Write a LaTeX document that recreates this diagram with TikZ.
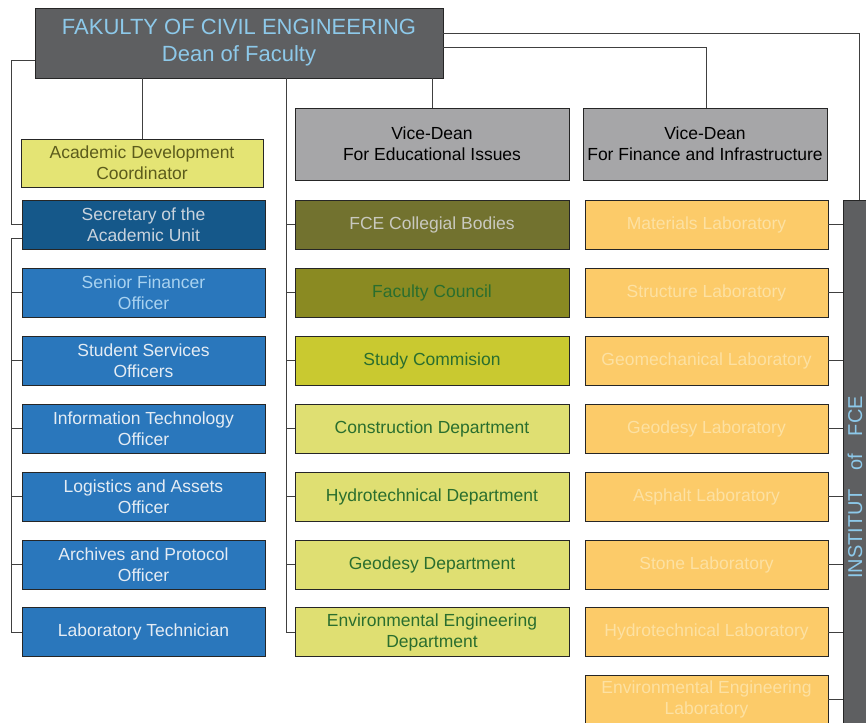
\documentclass[tikz,border=0pt]{standalone}
\usepackage{fontspec}
\setmainfont{Liberation Sans}
\definecolor{deanfill}{HTML}{5E5F61}
\definecolor{deantext}{HTML}{8DC9EA}
\definecolor{vdfill}{HTML}{A6A6A8}
\definecolor{adcfill}{HTML}{E4E474}
\definecolor{adctext}{HTML}{5C5C1C}
\definecolor{secfill}{HTML}{15588A}
\definecolor{sectext}{HTML}{C9D3DD}
\definecolor{bluefill}{HTML}{2A77BC}
\definecolor{bluetextA}{HTML}{A8D2F0}
\definecolor{bluetext}{HTML}{E4ECF4}
\definecolor{fcefill}{HTML}{72722F}
\definecolor{fcetext}{HTML}{C9C9BF}
\definecolor{fcfill}{HTML}{8A8A22}
\definecolor{greentext}{HTML}{2A6E2E}
\definecolor{scfill}{HTML}{C9C930}
\definecolor{depfill}{HTML}{DFDF72}
\definecolor{labfill}{HTML}{FCCB69}
\definecolor{labtext}{HTML}{FDE1A2}
\definecolor{boxline}{HTML}{262626}
\definecolor{conn}{HTML}{404040}
\tikzset{
  box/.style={draw=boxline, line width=0.9pt, inner sep=0pt, align=center,
    font=\fontsize{17.5}{21}\selectfont},
  leftbox/.style={box, minimum width=243pt, minimum height=49pt, fill=bluefill, text=bluetext},
  midbox/.style={box, minimum width=274pt, minimum height=49pt, fill=depfill, text=greentext},
  labbox/.style={box, minimum width=243pt, minimum height=49pt, fill=labfill, text=labtext},
  link/.style={draw=conn, line width=0.9pt},
}
\begin{document}
\begin{tikzpicture}[x=1pt,y=-1pt]
\useasboundingbox (0,0) rectangle (866,722);
\clip (0,0) rectangle (866,722);
\fill[white] (0,0) rectangle (866,722);

% top
\node[box, minimum width=408pt, minimum height=70pt, fill=deanfill, text=deantext,
  font=\fontsize{22}{27}\selectfont] (dean) at (239,43) {FAKULTY OF CIVIL ENGINEERING\\Dean of Faculty};
\node[box, minimum width=242pt, minimum height=48pt, fill=adcfill, text=adctext] (adc) at (142,163) {Academic Development\\Coordinator};
\node[box, minimum width=274pt, minimum height=72pt, fill=vdfill, text=black] (vd1) at (432,144) {Vice-Dean\\For Educational Issues};
\node[box, minimum width=244pt, minimum height=72pt, fill=vdfill, text=black] (vd2) at (705,144) {Vice-Dean\\For Finance and Infrastructure};

% left column
\node[leftbox, fill=secfill, text=sectext] (sec) at (143.5,224.5) {Secretary of the\\Academic Unit};
\node[leftbox, text=bluetextA] (sf) at (143.5,292.5) {Senior Financer\\Officer};
\node[leftbox] (ss) at (143.5,360.5) {Student Services\\Officers};
\node[leftbox] (it) at (143.5,428.5) {Information Technology\\Officer};
\node[leftbox] (la) at (143.5,496.5) {Logistics and Assets\\Officer};
\node[leftbox] (ap) at (143.5,564.5) {Archives and Protocol\\Officer};
\node[leftbox] (lt) at (143.5,632) {Laboratory Technician};

% middle column
\node[midbox, fill=fcefill, text=fcetext] (fce) at (432,224.5) {FCE Collegial Bodies};
\node[midbox, fill=fcfill] (fc) at (432,292.5) {Faculty Council};
\node[midbox, fill=scfill] (sc) at (432,360.5) {Study Commision};
\node[midbox] (cd) at (432,428.5) {Construction Department};
\node[midbox] (hd) at (432,496.5) {Hydrotechnical Department};
\node[midbox] (gd) at (432,564.5) {Geodesy Department};
\node[midbox] (ed) at (432,632) {Environmental Engineering\\Department};

% right column
\node[labbox] (l1) at (706.5,224.5) {Materials Laboratory};
\node[labbox] (l2) at (706.5,292.5) {Structure Laboratory};
\node[labbox] (l3) at (706.5,360.5) {Geomechanical Laboratory};
\node[labbox] (l4) at (706.5,428.5) {Geodesy Laboratory};
\node[labbox] (l5) at (706.5,496.5) {Asphalt Laboratory};
\node[labbox] (l6) at (706.5,564.5) {Stone Laboratory};
\node[labbox] (l7) at (706.5,632) {Hydrotechnical Laboratory};
\node[labbox] (l8) at (706.5,699.5) {Environmental Engineering\\Laboratory};

% institut
\node[box, rotate=90, minimum width=575pt, minimum height=28pt, fill=deanfill] (inst) at (857,487.5) {};
\node[rotate=90, inner sep=0pt, text=deantext, font=\fontsize{20}{24}\selectfont]
  (insttext) at (855,487.5) {INSTITUT\hspace{0.9em}of\hspace{0.9em}FCE};

% connectors
\coordinate (lb) at (11,0);
\coordinate (mb) at (286,0);
\coordinate (secout) at ([yshift=-14pt]sec.west);
\draw[link] ([yshift=-17pt]dean.west) -| (lb |- sec.west) -- (sec.west);
\draw[link] (secout) -- (lb |- secout) -- (lb |- lt.west);
\foreach \n in {sf,ss,it,la,ap,lt} \draw[link] (lb |- \n.west) -- (\n.west);
\draw[link] (dean.south -| adc.north) -- (adc.north);
\draw[link] (dean.south -| mb) -- (mb |- ed.west);
\foreach \n in {fce,fc,sc,cd,hd,gd,ed} \draw[link] (mb |- \n.west) -- (\n.west);
\draw[link] (dean.south -| vd1.north) -- (vd1.north);
\draw[link] ([yshift=-4pt]dean.east) -| ([xshift=1pt]vd2.north);
\draw[link] ([yshift=10pt]dean.east) -| ([xshift=2pt]inst.east);
\foreach \n in {l1,l2,l3,l4,l5,l6,l7,l8} \draw[link] (\n.east) -- (inst.north |- \n.east);
\end{tikzpicture}
\end{document}
